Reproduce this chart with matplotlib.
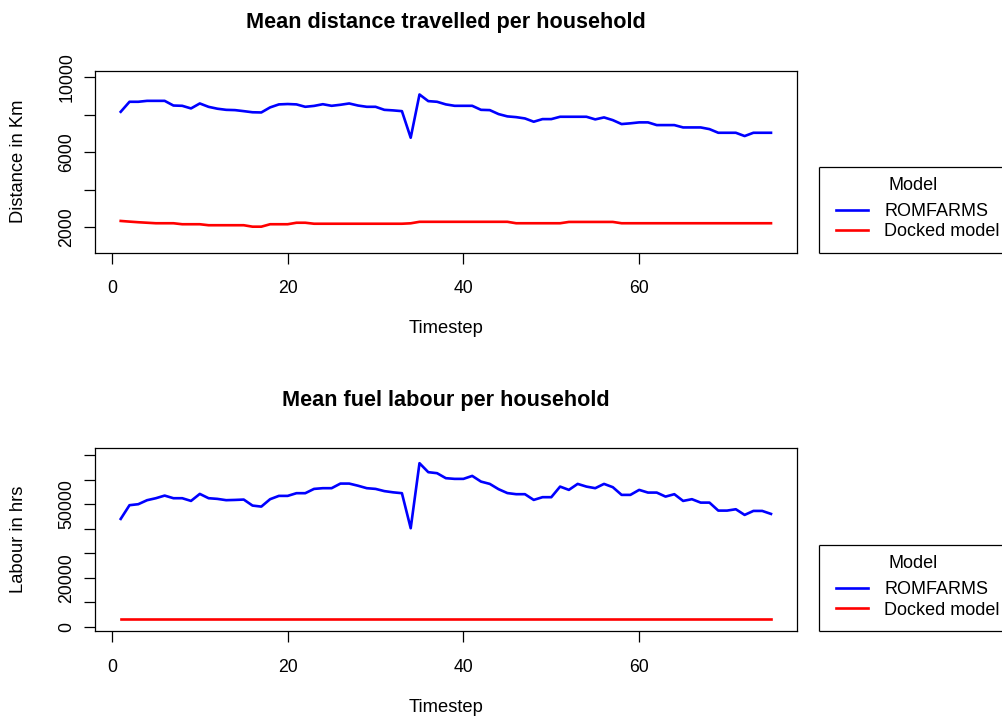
import numpy as np
import matplotlib
matplotlib.use("Agg")
import matplotlib.pyplot as plt
from matplotlib.lines import Line2D

plt.rcParams['font.family'] = ['Liberation Sans', 'DejaVu Sans']

timestep = list(range(1, 76))

# mean distance travelled per household (km)
dist_romfarms = [
    8165, 8700, 8700, 8750, 8750, 8750, 8500, 8485, 8345, 8610,
    8430, 8330, 8270, 8255, 8200, 8140, 8130, 8400, 8560, 8580,
    8560, 8432, 8480, 8570, 8485, 8540, 8610, 8500, 8432, 8432,
    8270, 8240, 8200, 6780, 9090, 8735, 8700, 8560, 8485, 8485,
    8485, 8270, 8255, 8043, 7920, 7880, 7810, 7635, 7775, 7775,
    7900, 7900, 7900, 7900, 7760, 7865, 7720, 7510, 7550, 7600,
    7600, 7455, 7455, 7455, 7330, 7330, 7330, 7240, 7045, 7045,
    7045, 6870, 7045, 7045, 7045,
]
dist_docked = [
    2336, 2300, 2267, 2240, 2213, 2213, 2213, 2160, 2160, 2160,
    2107, 2107, 2107, 2107, 2107, 2030, 2030, 2160, 2160, 2160,
    2240, 2240, 2187, 2187, 2187, 2187, 2187, 2187, 2187, 2187,
    2187, 2187, 2187, 2210, 2290, 2290, 2290, 2290, 2290, 2290,
    2290, 2290, 2290, 2290, 2290, 2213, 2213, 2213, 2213, 2213,
    2213, 2283, 2283, 2283, 2283, 2283, 2283, 2213, 2213, 2213,
    2213, 2213, 2213, 2213, 2213, 2213, 2213, 2213, 2213, 2213,
    2213, 2213, 2213, 2213, 2213,
]

# mean fuel labour per household (hrs)
labour_romfarms = [
    43960, 49550, 49960, 51590, 52400, 53470, 52400, 52400, 51300, 54160,
    52400, 52130, 51600, 51700, 51850, 49400, 48980, 52000, 53350, 53350,
    54450, 54450, 56200, 56490, 56490, 58370, 58370, 57500, 56490, 56200,
    55300, 54800, 54450, 40160, 66690, 63020, 62610, 60570, 60290, 60290,
    61500, 59180, 58240, 56080, 54500, 54040, 54040, 51710, 52820, 52820,
    57140, 55800, 58240, 57140, 56490, 58240, 56900, 53760, 53760, 55800,
    54700, 54700, 53060, 54040, 51300, 52000, 50610, 50610, 47350, 47350,
    47900, 45590, 47220, 47220, 46000,
]
labour_docked = [3000] * 75

series_names = ['ROMFARMS', 'Docked model']
series_colors = ['#0000ff', '#ff0000']

W, H = 1003, 718
fig = plt.figure(figsize=(W / 100, H / 100), dpi=100)


def fx(px):
    return px / W


def fy(px):
    return 1 - px / H


def frame_line(xs, ys):
    fig.add_artist(Line2D([fx(v) for v in xs], [fy(v) for v in ys],
                          transform=fig.transFigure, color='black', lw=0.9,
                          solid_capstyle='butt', zorder=-1))


def panel(top_px, bottom_px, title, ylabel, ys, ylim, yticks, ylabels):
    ax = fig.add_axes([fx(94.7), fy(bottom_px), 702.3 / W, (bottom_px - top_px) / H])
    for vals, name, col in zip(ys, series_names, series_colors):
        ax.plot(timestep, vals, color=col, lw=1.9, label=name)
    # R style 4% padding around the limits
    ax.set_xlim(1 - 0.04 * 74, 75 + 0.04 * 74)
    span = ylim[1] - ylim[0]
    ax.set_ylim(ylim[0] - 0.04 * span, ylim[1] + 0.04 * span)
    ax.set_xticks([0, 20, 40, 60])
    ax.set_yticks(yticks)
    ax.set_yticklabels(ylabels, rotation=90, va='center')
    ax.tick_params(axis='both', direction='out', length=8, width=0.9,
                   labelsize=12.7, colors='black')
    ax.tick_params(axis='x', pad=12)
    ax.tick_params(axis='y', pad=6)
    for s in ax.spines.values():
        s.set_linewidth(0.9)
        s.set_color('black')

    ax.text(0.5, 1.232, title, transform=ax.transAxes, ha='center',
            va='baseline', fontsize=15.6, fontweight='bold')
    ax.set_xlabel('Timestep', fontsize=13.2)
    ax.xaxis.set_label_coords(0.5, -0.418)
    ax.xaxis.label.set_va('center')
    ax.set_ylabel(ylabel, fontsize=13.2)
    ax.yaxis.set_label_coords((18.5 - 94.7) / 702.3, 0.5)
    ax.yaxis.label.set_va('center')

    # legend box level with the bottom of the plot, running off the right edge
    box_top = bottom_px - 86
    frame_line([819.3, W], [box_top, box_top])
    frame_line([819.3, 819.3], [box_top, bottom_px])
    frame_line([819.3, W], [bottom_px, bottom_px])
    fig.text(fx(913), fy(box_top + 23.5), 'Model', ha='center', va='baseline',
             fontsize=13)
    ax.legend(loc='upper left', bbox_to_anchor=(fx(836), fy(box_top + 36.5)),
              bbox_transform=fig.transFigure, borderaxespad=0, borderpad=0,
              fontsize=13, frameon=False, handlelength=1.77,
              handletextpad=0.89, labelspacing=0.17)
    return ax


panel(70.7, 252.7, 'Mean distance travelled per household', 'Distance in Km',
      [dist_romfarms, dist_docked], (1000, 10000),
      [2000, 4000, 6000, 8000, 10000], ['2000', '', '6000', '', '10000'])

panel(448.3, 631.0, 'Mean fuel labour per household', 'Labour in hrs',
      [labour_romfarms, labour_docked], (1000, 70000),
      list(range(0, 70001, 10000)),
      ['0', '', '20000', '', '', '50000', '', ''])

fig.savefig('out.png', dpi=100)
